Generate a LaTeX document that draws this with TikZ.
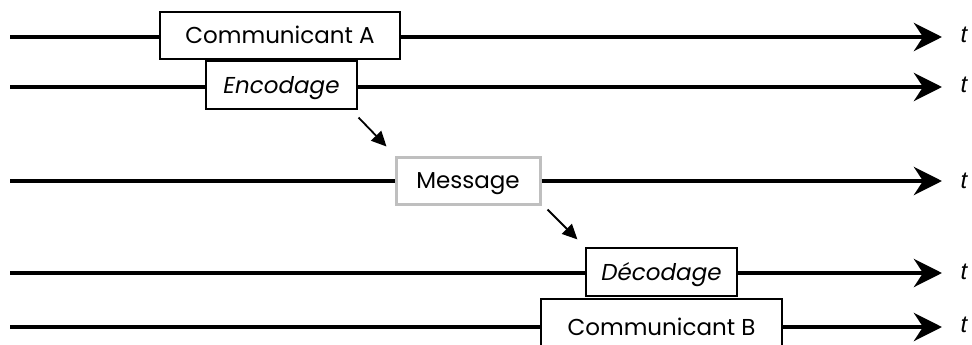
\documentclass[tikz,border=0pt]{standalone}
\usepackage{fontspec}
\setmainfont{Poppins}
\newfontfamily\tfont{Liberation Sans}
\usetikzlibrary{arrows.meta,calc}
\begin{document}
\begin{tikzpicture}[x=1pt,y=-1pt,
  timeline/.style={line width=4.5pt},
  timearrow/.style={line width=4.5pt,-{Stealth[length=28pt,width=28pt,inset=9pt]}},
  box/.style={draw=black,line width=1.2pt,fill=white,inner sep=0pt,
    font=\fontsize{23}{26}\selectfont,text height=16pt,text depth=0pt},
  msgbox/.style={box,draw=black!25,line width=3pt},
  flow/.style={line width=1.8pt,-{Triangle[length=15pt,width=14pt]}},
  tlabel/.style={font=\tfont\itshape\fontsize{24}{26}\selectfont,anchor=center}]
\useasboundingbox (0,0) rectangle (972,345);
% line positions
\coordinate (s1) at (10,37);  \coordinate (e1) at (942,37);
\coordinate (s2) at (10,87);  \coordinate (e2) at (942,87);
\coordinate (s3) at (10,181); \coordinate (e3) at (942,181);
\coordinate (s4) at (10,273); \coordinate (e4) at (942,273);
\coordinate (s5) at (10,327); \coordinate (e5) at (942,327);
% boxes
\node[box,minimum width=240pt,minimum height=47pt] (A) at (280,35.5) {Communicant A};
\node[box,minimum width=151pt,minimum height=48pt] (E) at (281.5,85) {\itshape Encodage};
\node[msgbox,minimum width=144pt,minimum height=47pt] (M) at (468,180.5) {Message};
\node[box,minimum width=151pt,minimum height=48pt] (D) at (661.5,272) {\itshape Décodage};
\node[box,minimum width=241pt,minimum height=56pt] (B) at (661.5,327) {Communicant B};
% timelines
\draw[timeline] (s1) -- (s1 -| A.west);
\draw[timearrow] (e1 -| A.east) -- (e1);
\draw[timeline] (s2) -- (s2 -| E.west);
\draw[timearrow] (e2 -| E.east) -- (e2);
\draw[timeline] (s3) -- (s3 -| M.west);
\draw[timearrow] (e3 -| M.east) -- (e3);
\draw[timeline] (s4) -- (s4 -| D.west);
\draw[timearrow] (e4 -| D.east) -- (e4);
\draw[timeline] (s5) -- (s5 -| B.west);
\draw[timearrow] (e5 -| B.east) -- (e5);
% t labels
\node[tlabel] (t1) at (964,35) {t};
\node[tlabel] (t2) at (964,85) {t};
\node[tlabel] (t3) at (964,181) {t};
\node[tlabel] (t4) at (964,272) {t};
\node[tlabel] (t5) at (964,325) {t};
% flow arrows
\draw[flow] ($(E.south east)+(1,8)$) -- ($(M.north west)+(-8,-9)$);
\draw[flow] ($(M.south east)+(6,4)$) -- ($(D.north west)+(-8,-8)$);
\end{tikzpicture}
\end{document}
